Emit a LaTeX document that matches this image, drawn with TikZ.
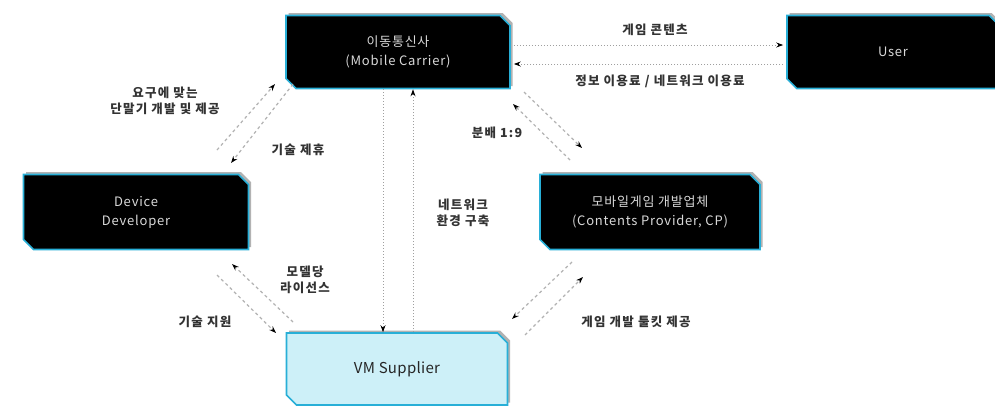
\documentclass[tikz,border=0pt]{standalone}
\usepackage{fontspec}
\setmainfont{Noto Sans CJK KR}
\usetikzlibrary{shapes.misc,arrows.meta,calc,shadows}
\definecolor{bcyan}{RGB}{40,175,215}
\definecolor{vmfill}{RGB}{205,240,248}
\begin{document}
\begin{tikzpicture}[x=1pt,y=-1pt,
  box/.style={chamfered rectangle, chamfered rectangle corners={north east,south west},
    chamfered rectangle sep=5pt, draw=bcyan, line width=1.6pt, fill=black,
    text=gray!30, font=\fontsize{13}{19}\selectfont\addfontfeatures{LetterSpace=6}, align=center, inner sep=0pt,
    general shadow={shadow xshift=2.5pt, shadow yshift=2.5pt, fill=gray!60}},
  vmbox/.style={box, fill=vmfill, text=black!85, font=\fontsize{15}{19}\selectfont\addfontfeatures{LetterSpace=2}},
  lbl/.style={font=\fontsize{12.5}{16}\selectfont\bfseries\addfontfeatures{LetterSpace=10}, text=black!80, align=center, inner sep=1pt},
  conn/.style={draw=gray!75, line width=1pt, dotted, -{Stealth[length=7pt,width=5pt,black]}},
  dconn/.style={draw=gray!60, line width=1.2pt, dashed, -{Stealth[length=7pt,width=5pt,black]}}
]
\useasboundingbox (0,0) rectangle (995,410);
\fill[white] (0,0) rectangle (995,410);

\node[box, minimum width=224pt, minimum height=73pt] (carrier) at (398,52) {이동통신사\\(Mobile Carrier)};
\node[box, minimum width=212pt, minimum height=73pt] (user) at (893,52) {User};
\node[box, minimum width=225pt, minimum height=75pt] (device) at (136,212) {Device\\Developer};
\node[box, minimum width=220pt, minimum height=75pt] (cp) at (650,212) {모바일게임 개발업체\\(Contents Provider, CP)};
\node[vmbox, minimum width=221pt, minimum height=72pt] (vm) at (397,369) {VM Supplier};

% top horizontal
\draw[conn] ($(carrier.east)+(3,-7)$) -- ($(user.west)+(-3,-7)$);
\draw[conn] ($(user.west)+(-3,12)$) -- ($(carrier.east)+(3,12)$);
\node[lbl] (l1) at (655,30) {게임 콘텐츠};
\node[lbl] (l2) at (660,81) {정보 이용료 / 네트워크 이용료};

% carrier <-> device
\coordinate (a1s) at (217,150);
\coordinate (a2e) at (231,163);
\draw[dconn] (a1s) -- (carrier.south west -| 275,92);
\draw[dconn] (carrier.south west -| 293,100) -- (a2e);
\node[lbl] (l3) at (165,101) {요구에 맞는\\단말기 개발 및 제공};
\node[lbl] (l4) at (298,150) {기술 제휴};

% carrier <-> vm vertical
\draw[conn] (carrier.south -| 383,0) -- (vm.north -| 383,0);
\draw[conn] (vm.north -| 413,0) -- (carrier.south -| 413,0);
\node[lbl] (l5) at (463,213) {네트워크\\환경 구축};

% carrier <-> cp
\coordinate (b1s) at (570,160);
\coordinate (b1e) at (513,104);
\coordinate (b2s) at (524,92);
\coordinate (b2e) at (582,148);
\draw[dconn] (b1s) -- (b1e);
\draw[dconn] (b2s) -- (b2e);
\node[lbl] (l6) at (497,133) {분배 1:9};

% device <-> vm
\coordinate (c1s) at (217,275);
\coordinate (c1e) at (276,333);
\coordinate (c2s) at (293,322);
\coordinate (c2e) at (232,264);
\draw[dconn] (c1s) -- (c1e);
\draw[dconn] (c2s) -- (c2e);
\node[lbl] (l7) at (305,280) {모델당\\라이선스};
\node[lbl] (l8) at (205,322) {기술 지원};

% cp <-> vm
\coordinate (d1s) at (572,262);
\coordinate (d1e) at (512,319);
\coordinate (d2s) at (525,335);
\coordinate (d2e) at (583,277);
\draw[dconn] (d1s) -- (d1e);
\draw[dconn] (d2s) -- (d2e);
\node[lbl] (l9) at (636,322) {게임 개발 툴킷 제공};
\end{tikzpicture}
\end{document}
